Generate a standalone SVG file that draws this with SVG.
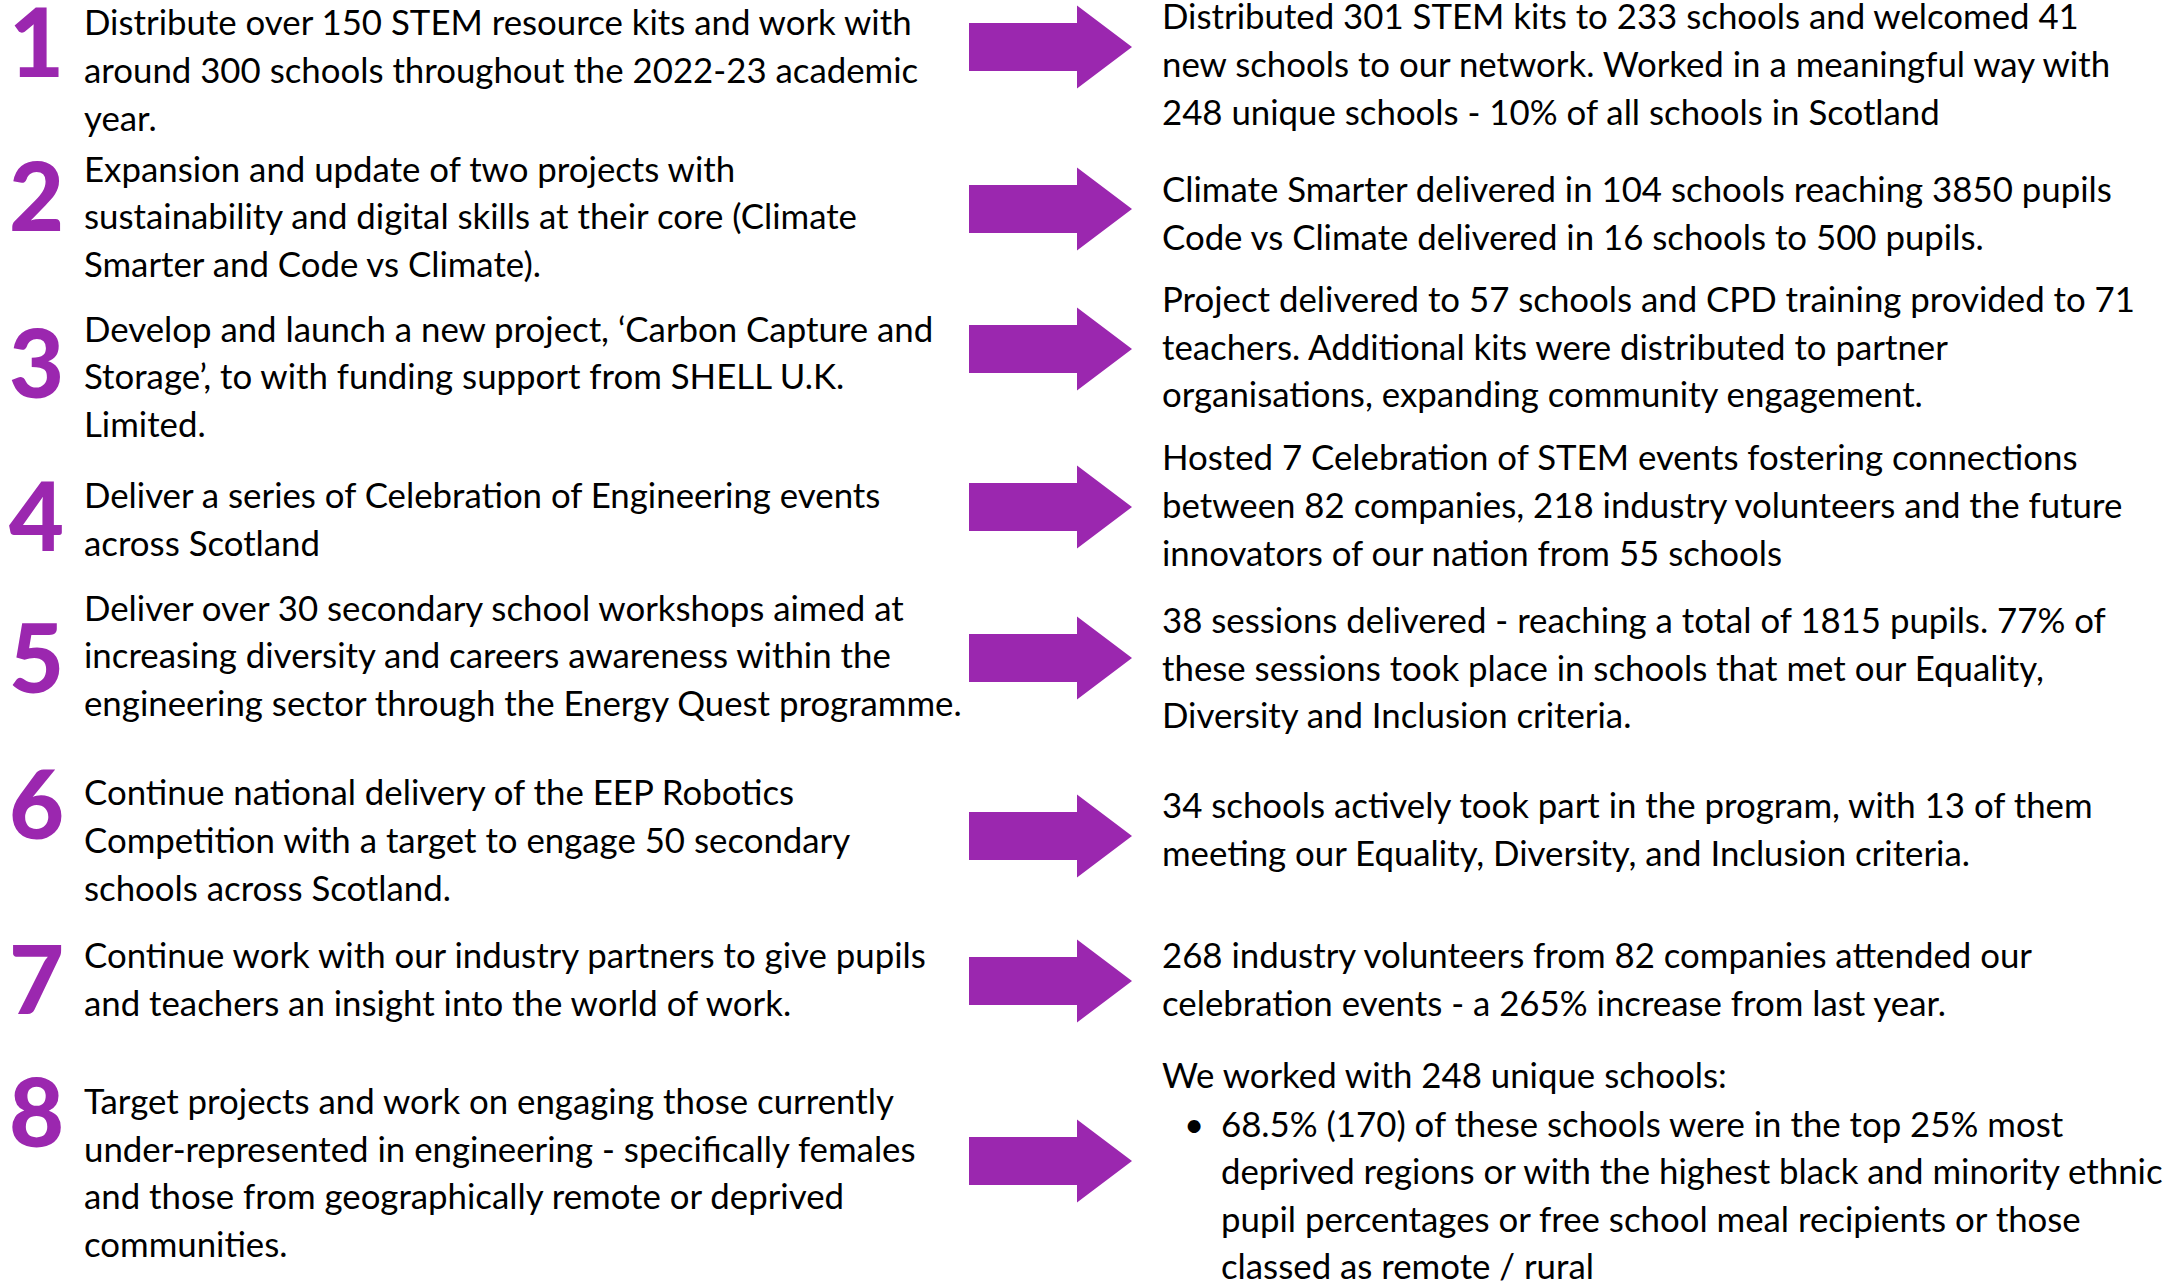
<svg xmlns="http://www.w3.org/2000/svg" width="2170" height="1283" viewBox="0 0 2170 1283">
<style>
.t{font-family:Lato,"Liberation Sans",sans-serif;font-size:34.8px;fill:#000;}
.n{font-family:Lato,"Liberation Sans",sans-serif;font-size:95px;font-weight:900;fill:#9B27AF;}
.a{fill:#9B27AF;}
</style>
<defs>
<path id="arr" d="M0,-24 H108 V-41.5 L163,0 L108,41.5 V24 H0 Z"/>
</defs>
<rect width="2170" height="1283" fill="#fff"/>
<g id="goal1"><text class="n" x="9" y="77">1</text>
<text class="t" x="84" y="35">Distribute over 150 STEM resource kits and work with</text>
<text class="t" x="84" y="83">around 300 schools throughout the 2022-23 academic</text>
<text class="t" x="84" y="131">year.</text></g>
<g id="goal2"><text class="n" x="9" y="231">2</text>
<text class="t" x="84" y="182">Expansion and update of two projects with</text>
<text class="t" x="84" y="229">sustainability and digital skills at their core (Climate</text>
<text class="t" x="84" y="277">Smarter and Code vs Climate).</text></g>
<g id="goal3"><text class="n" x="9" y="398">3</text>
<text class="t" x="84" y="342">Develop and launch a new project, ‘Carbon Capture and</text>
<text class="t" x="84" y="389">Storage’, to with funding support from SHELL U.K.</text>
<text class="t" x="84" y="437">Limited.</text></g>
<g id="goal4"><text class="n" x="9" y="551">4</text>
<text class="t" x="84" y="508">Deliver a series of Celebration of Engineering events</text>
<text class="t" x="84" y="556">across Scotland</text></g>
<g id="goal5"><text class="n" x="9" y="693">5</text>
<text class="t" x="84" y="621">Deliver over 30 secondary school workshops aimed at</text>
<text class="t" x="84" y="668">increasing diversity and careers awareness within the</text>
<text class="t" x="84" y="716">engineering sector through the Energy Quest programme.</text></g>
<g id="goal6"><text class="n" x="9" y="839">6</text>
<text class="t" x="84" y="805">Continue national delivery of the EEP Robotics</text>
<text class="t" x="84" y="853">Competition with a target to engage 50 secondary</text>
<text class="t" x="84" y="901">schools across Scotland.</text></g>
<g id="goal7"><text class="n" x="9" y="1014">7</text>
<text class="t" x="84" y="968">Continue work with our industry partners to give pupils</text>
<text class="t" x="84" y="1016">and teachers an insight into the world of work.</text></g>
<g id="goal8"><text class="n" x="9" y="1147">8</text>
<text class="t" x="84" y="1114">Target projects and work on engaging those currently</text>
<text class="t" x="84" y="1162">under-represented in engineering - specifically females</text>
<text class="t" x="84" y="1209">and those from geographically remote or deprived</text>
<text class="t" x="84" y="1257">communities.</text></g>
<g id="result1">
<text class="t" x="1162" y="29">Distributed 301 STEM kits to 233 schools and welcomed 41</text>
<text class="t" x="1162" y="77">new schools to our network. Worked in a meaningful way with</text>
<text class="t" x="1162" y="125">248 unique schools - 10% of all schools in Scotland</text></g>
<g id="result2">
<text class="t" x="1162" y="202">Climate Smarter delivered in 104 schools reaching 3850 pupils</text>
<text class="t" x="1162" y="250">Code vs Climate delivered in 16 schools to 500 pupils.</text></g>
<g id="result3">
<text class="t" x="1162" y="312">Project delivered to 57 schools and CPD training provided to 71</text>
<text class="t" x="1162" y="360">teachers. Additional kits were distributed to partner</text>
<text class="t" x="1162" y="407">organisations, expanding community engagement.</text></g>
<g id="result4">
<text class="t" x="1162" y="470">Hosted 7 Celebration of STEM events fostering connections</text>
<text class="t" x="1162" y="518">between 82 companies, 218 industry volunteers and the future</text>
<text class="t" x="1162" y="566">innovators of our nation from 55 schools</text></g>
<g id="result5">
<text class="t" x="1162" y="633">38 sessions delivered - reaching a total of 1815 pupils. 77% of</text>
<text class="t" x="1162" y="681">these sessions took place in schools that met our Equality,</text>
<text class="t" x="1162" y="728">Diversity and Inclusion criteria.</text></g>
<g id="result6">
<text class="t" x="1162" y="818">34 schools actively took part in the program, with 13 of them</text>
<text class="t" x="1162" y="866">meeting our Equality, Diversity, and Inclusion criteria.</text></g>
<g id="result7">
<text class="t" x="1162" y="968">268 industry volunteers from 82 companies attended our</text>
<text class="t" x="1162" y="1016">celebration events - a 265% increase from last year.</text></g>
<g id="result8">
<text class="t" x="1162" y="1088">We worked with 248 unique schools:</text>
<text class="t" x="1184" y="1137">•</text>
<text class="t" x="1221" y="1137">68.5% (170) of these schools were in the top 25% most</text>
<text class="t" x="1221" y="1184">deprived regions or with the highest black and minority ethnic</text>
<text class="t" x="1221" y="1232">pupil percentages or free school meal recipients or those</text>
<text class="t" x="1221" y="1279">classed as remote / rural</text></g>
<g id="connectors" class="a">
<use href="#arr" x="969" y="47"/>
<use href="#arr" x="969" y="209"/>
<use href="#arr" x="969" y="349"/>
<use href="#arr" x="969" y="507"/>
<use href="#arr" x="969" y="658"/>
<use href="#arr" x="969" y="836"/>
<use href="#arr" x="969" y="981"/>
<use href="#arr" x="969" y="1161"/>
</g>
</svg>
